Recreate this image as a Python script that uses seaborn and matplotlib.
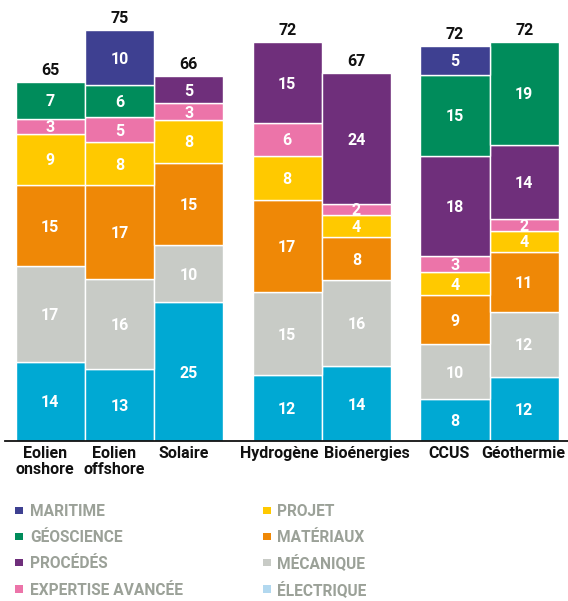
import numpy as np
import matplotlib
matplotlib.use("Agg")
import matplotlib.pyplot as plt
from matplotlib.patches import Rectangle
import matplotlib.transforms as mtransforms
import seaborn as sns

# Filières, grouped as in the report (renewables / gas & fuels / subsurface)
categories = ["Eolien\nonshore", "Eolien\noffshore", "Solaire",
              "Hydrogène", "Bioénergies", "CCUS", "Géothermie"]
groups = [0, 0, 0, 1, 1, 2, 2]

# Competence families, stacked from the baseline upward
families = ["ÉLECTRIQUE", "MÉCANIQUE", "MATÉRIAUX", "PROJET",
            "EXPERTISE AVANCÉE", "PROCÉDÉS", "GÉOSCIENCE", "MARITIME"]

electrique = [14.4, 13.0, 25.2, 11.9, 13.6, 7.6, 11.6]
mecanique = [17.4, 16.4, 10.3, 15.2, 15.6, 10.0, 11.9]
materiaux = [14.6, 17.1, 15.0, 16.6, 7.8, 8.9, 10.8]
projet = [9.4, 7.7, 7.8, 8.1, 4.0, 4.1, 3.9]
expertise = [2.7, 4.6, 3.0, 5.9, 2.1, 3.0, 2.0]
procedes = [0.0, 0.0, 4.9, 14.7, 23.6, 18.2, 13.6]
geoscience = [6.6, 5.8, 0.0, 0.0, 0.0, 14.7, 18.6]
maritime = [0.0, 10.0, 0.0, 0.0, 0.0, 5.2, 0.0]

series = [electrique, mecanique, materiaux, projet,
          expertise, procedes, geoscience, maritime]
colors = ["#00A9D3", "#C8CBC6", "#EF8806", "#FFC900",
          "#EC74A9", "#6F2F7B", "#008C5B", "#3E4091"]
legend_colors = ["#B2D8EF", "#C8CBC6", "#EF8806", "#FFC900",
                 "#EC74A9", "#6F2F7B", "#008C5B", "#3E4091"]

sns.set_theme(style="white")
plt.rcParams["font.family"] = ["Roboto", "DejaVu Sans"]

W, H = 568, 601
fig = plt.figure(figsize=(W / 100, H / 100), dpi=100)

# axes placed in pixel terms: baseline at y=441, spine from x=5 to the right edge
ax_left, ax_right = 5, 568
ax_bottom, px_per_unit = 441, 5.51
ymax = 78
ax_top = ax_bottom - ymax * px_per_unit
ax = fig.add_axes([ax_left / W, 1 - ax_bottom / H,
                   (ax_right - ax_left) / W, (ax_bottom - ax_top) / H])

gap = 0.42
pos = np.arange(len(categories)) + gap * np.array(groups)

bottom = np.zeros(len(categories))
for vals, col in zip(series, colors):
    vals = np.asarray(vals, dtype=float)
    mask = vals > 0
    ax.bar(pos[mask], vals[mask], bottom=bottom[mask], width=1.0,
           color=col, edgecolor="white", linewidth=1.0)
    for x, b, v in zip(pos[mask], bottom[mask], vals[mask]):
        ax.text(x, b + v / 2, f"{v:.0f}", ha="center", va="center_baseline",
                color="white", fontsize=11.5, fontweight="bold")
    bottom += vals

for x, t in zip(pos, bottom):
    ax.annotate(f"{t:.0f}", (x, t), xytext=(0, 3), textcoords="offset points",
                ha="center", va="bottom", fontsize=11.5, fontweight="bold",
                color="#111111")

unit_px = 69.3
x0 = -(50.2 - ax_left) / unit_px
ax.set_xlim(x0, x0 + (ax_right - ax_left) / unit_px)
ax.set_ylim(0, ymax)
ax.set_xticks([])
ax.set_yticks([])
for s in ["top", "right", "left"]:
    ax.spines[s].set_visible(False)
ax.spines["bottom"].set_color("#111111")
ax.spines["bottom"].set_linewidth(1.3)

# category names under the baseline, nudged so neighbours don't collide
nudges_px = [-5.5, -5.5, -5.5, -8, 10, -5.5, -1]
trans = mtransforms.blended_transform_factory(ax.transData, fig.transFigure)
for x, name, dx in zip(pos, categories, nudges_px):
    ax.text(x + dx / unit_px, 1 - 446 / H, name, transform=trans,
            ha="center", va="top", fontsize=11.5, fontweight="bold",
            color="#111111", linespacing=1.05)

# legend: two columns of coloured squares with grey capitals
order = ["MARITIME", "GÉOSCIENCE", "PROCÉDÉS", "EXPERTISE AVANCÉE",
         "PROJET", "MATÉRIAUX", "MÉCANIQUE", "ÉLECTRIQUE"]
rows_y = [510.5, 536.5, 562.5, 589.0]
cols_x = [15.5, 263.0]
sq = 7.5
for i, name in enumerate(order):
    col, row = divmod(i, 4)
    cx, cy = cols_x[col], rows_y[row]
    c = legend_colors[families.index(name)]
    fig.patches.append(Rectangle((cx / W, 1 - (cy + sq / 2) / H), sq / W, sq / H,
                                 transform=fig.transFigure, facecolor=c,
                                 edgecolor="none"))
    fig.text((cx + 14.5) / W, 1 - cy / H, name, ha="left", va="center_baseline",
             fontsize=11.2, fontweight="bold", color="#9BA198")

fig.savefig("out.png", dpi=100, facecolor="white")
